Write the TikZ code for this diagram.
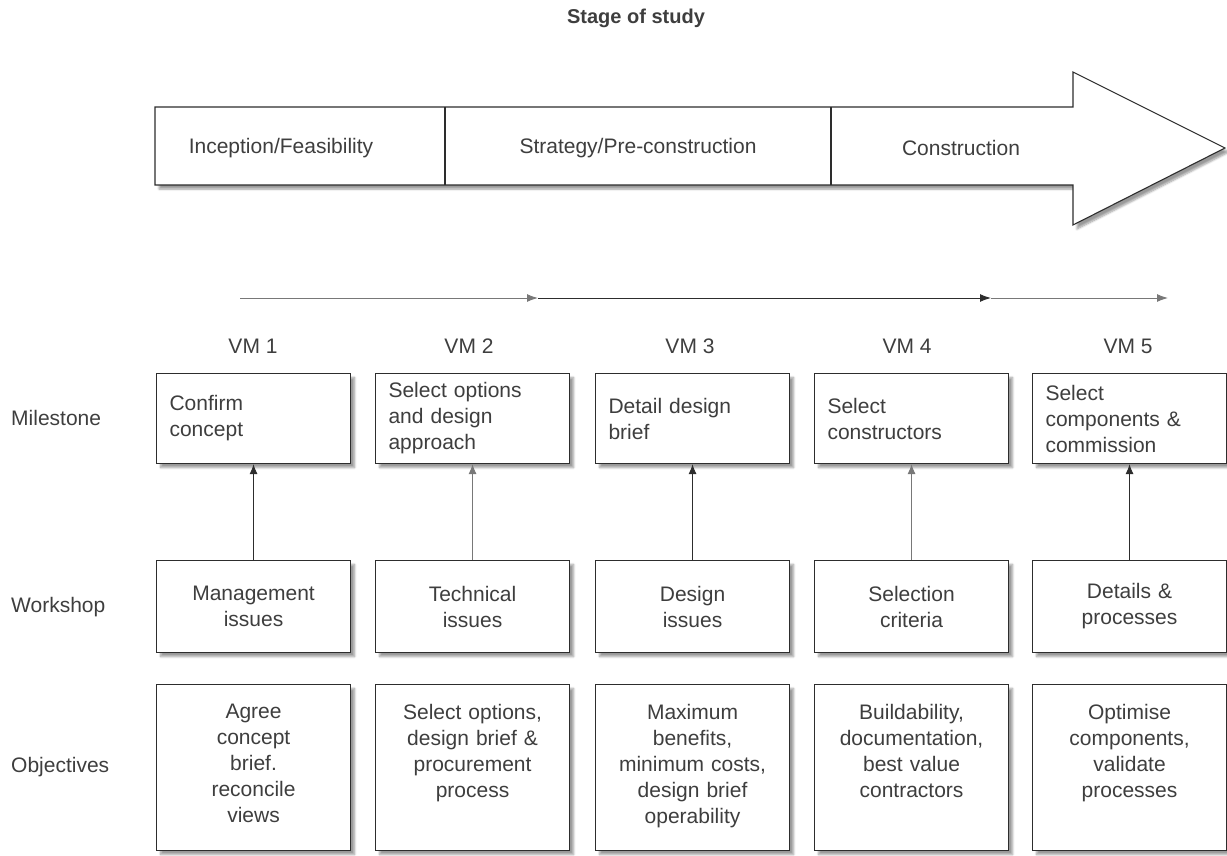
\documentclass[tikz,border=0pt]{standalone}
\usepackage{fontspec}
\setmainfont{Liberation Sans}
\usetikzlibrary{arrows.meta,shadows.blur}
\definecolor{ink}{RGB}{62,62,62}
\definecolor{edge}{RGB}{45,45,45}
\definecolor{faint}{RGB}{120,120,120}
\begin{document}
\begin{tikzpicture}[x=1pt,y=-1pt,
  every node/.style={font=\fontsize{21}{26}\selectfont, text=ink, inner sep=0pt},
  soft/.style={blur shadow={shadow xshift=4pt, shadow yshift=-4pt, shadow opacity=40, shadow blur steps=6}},
  box/.style={draw=edge, line width=1.1pt, fill=white, soft, anchor=north west,
    minimum width=194pt, text width=168pt},
  mile/.style={box, minimum height=90pt, align=left},
  work/.style={box, minimum height=92pt, align=center},
  objbox/.style={box, minimum height=166pt},
  objtext/.style={anchor=north, align=center, text width=186pt},
  rowlabel/.style={anchor=west},
  vm/.style={anchor=center},
  up/.style={draw=edge, line width=1pt, -{Latex[length=10pt,width=8pt]}},
  upfaint/.style={up, draw=faint},
  tl/.style={draw=edge, line width=1pt, -{Latex[length=11pt,width=8pt]}},
  tlfaint/.style={tl, draw=faint}]

\useasboundingbox (0,0) rectangle (1227,856);

% heading
\node[font=\bfseries\fontsize{20}{24}\selectfont] (title) at (636,18) {Stage of study};

% stage arrow
\draw[draw=edge, line width=1.1pt, fill=white, soft]
  (155,107) -- (1073,107) -- (1073,72) -- (1225,148) -- (1073,225) -- (1073,185) -- (155,185) -- cycle;
\draw[draw=edge, line width=1.1pt] (445,107) -- (445,185);
\draw[draw=edge, line width=1.1pt] (831,107) -- (831,185);
\node (s1) at (281,148) {Inception/Feasibility};
\node (s2) at (638,148) {Strategy/Pre-construction};
\node (s3) at (961,148) {Construction};

% time line
\coordinate (t0) at (240,298);
\coordinate (t1) at (538,298);
\coordinate (t2) at (991,298);
\coordinate (t3) at (1168,298);
\draw[tlfaint] (t0) -- (t1);
\draw[tl] (t1) -- (t2);
\draw[tlfaint] (t2) -- (t3);

% VM labels
\node[vm] (vm1) at (253,346) {VM 1};
\node[vm] (vm2) at (469,346) {VM 2};
\node[vm] (vm3) at (690,346) {VM 3};
\node[vm] (vm4) at (907,346) {VM 4};
\node[vm] (vm5) at (1128,346) {VM 5};

% row labels
\node[rowlabel] (lm) at (11,418) {Milestone};
\node[rowlabel] (lw) at (11,607) {Workshop};
\node[rowlabel] (lo) at (11,767) {Objectives};

% milestones
\node[mile] (m1) at (156,373) {Confirm\\concept};
\node[mile] (m2) at (375,373) {Select options\\and design\\approach};
\node[mile] (m3) at (595,373) {Detail design\\brief};
\node[mile] (m4) at (814,373) {Select\\constructors};
\node[mile] (m5) at (1032,373) {Select\\components \&\\commission};

% workshops
\node[work] (w1) at (156,560) {Management\\issues};
\node[work] (w2) at (375,560) {Technical\\issues};
\node[work] (w3) at (595,560) {Design\\issues};
\node[work] (w4) at (814,560) {Selection\\criteria};
\node[work] (w5) at (1032,560) {Details \&\\processes};

% objectives
\node[objbox] (o1) at (156,684) {};
\node[objbox] (o2) at (375,684) {};
\node[objbox] (o3) at (595,684) {};
\node[objbox] (o4) at (814,684) {};
\node[objbox] (o5) at (1032,684) {};
\node[objtext] (ot1) at ([yshift=-20pt]o1.north) {Agree\\concept\\brief.\\reconcile\\views};
\node[objtext] (ot2) at ([yshift=-20pt]o2.north) {Select options,\\design brief \&\\procurement\\process};
\node[objtext] (ot3) at ([yshift=-20pt]o3.north) {Maximum\\benefits,\\minimum costs,\\design brief\\operability};
\node[objtext] (ot4) at ([yshift=-20pt]o4.north) {Buildability,\\documentation,\\best value\\contractors};
\node[objtext] (ot5) at ([yshift=-20pt]o5.north) {Optimise\\components,\\validate\\processes};

% workshop feeds milestone
\draw[up] (w1.north) -- (m1.south);
\draw[upfaint] (w2.north) -- (m2.south);
\draw[up] (w3.north) -- (m3.south);
\draw[upfaint] (w4.north) -- (m4.south);
\draw[up] (w5.north) -- (m5.south);
\end{tikzpicture}
\end{document}
